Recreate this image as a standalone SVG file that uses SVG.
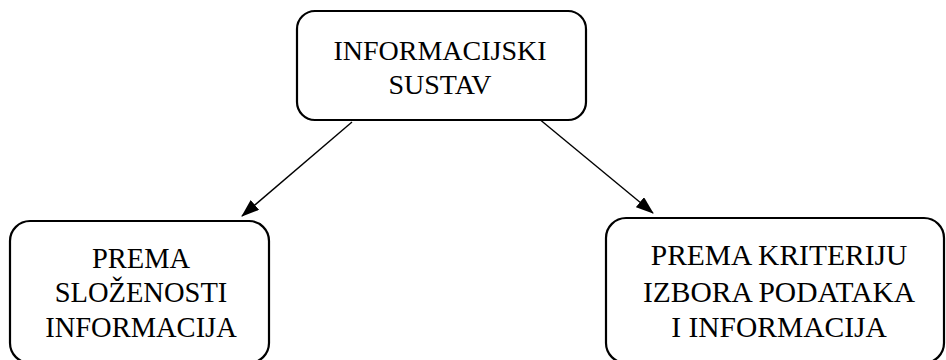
<svg xmlns="http://www.w3.org/2000/svg" width="946" height="360" viewBox="0 0 946 360">
<defs>
<style>
.box{fill:#fff;stroke:#000;stroke-width:2.2}
.lbl{font-family:"Liberation Serif","Times New Roman",serif;fill:#000;text-anchor:middle}
.edge{stroke:#000;stroke-width:1.4;fill:none}
</style>
<marker id="ah" viewBox="0 0 18 13" refX="17" refY="6.5" markerWidth="18" markerHeight="13" markerUnits="userSpaceOnUse" orient="auto">
<path d="M0,0 L18,6.5 L0,13 Z" fill="#000"/>
</marker>
</defs>
<rect width="946" height="360" fill="#fff"/>
<g id="connectors">
<line class="edge" x1="352" y1="122" x2="242" y2="216" marker-end="url(#ah)"/>
<line class="edge" x1="538" y1="118" x2="653" y2="213" marker-end="url(#ah)"/>
</g>
<g id="node-top">
<rect class="box" x="297" y="11" width="289" height="109" rx="18"/>
<text class="lbl" font-size="28" x="440" y="60">INFORMACIJSKI</text>
<text class="lbl" font-size="28" x="440" y="94">SUSTAV</text>
</g>
<g id="node-left">
<rect class="box" x="10" y="221" width="259" height="142" rx="20"/>
<text class="lbl" font-size="28.5" x="141" y="268">PREMA</text>
<text class="lbl" font-size="28.5" x="141" y="302">SLOŽENOSTI</text>
<text class="lbl" font-size="28.5" x="141" y="337">INFORMACIJA</text>
</g>
<g id="node-right">
<rect class="box" x="606" y="218" width="338" height="145" rx="20"/>
<text class="lbl" font-size="29.5" x="779" y="265">PREMA KRITERIJU</text>
<text class="lbl" font-size="29.5" x="779" y="302">IZBORA PODATAKA</text>
<text class="lbl" font-size="29.5" x="779" y="337">I INFORMACIJA</text>
</g>
</svg>
